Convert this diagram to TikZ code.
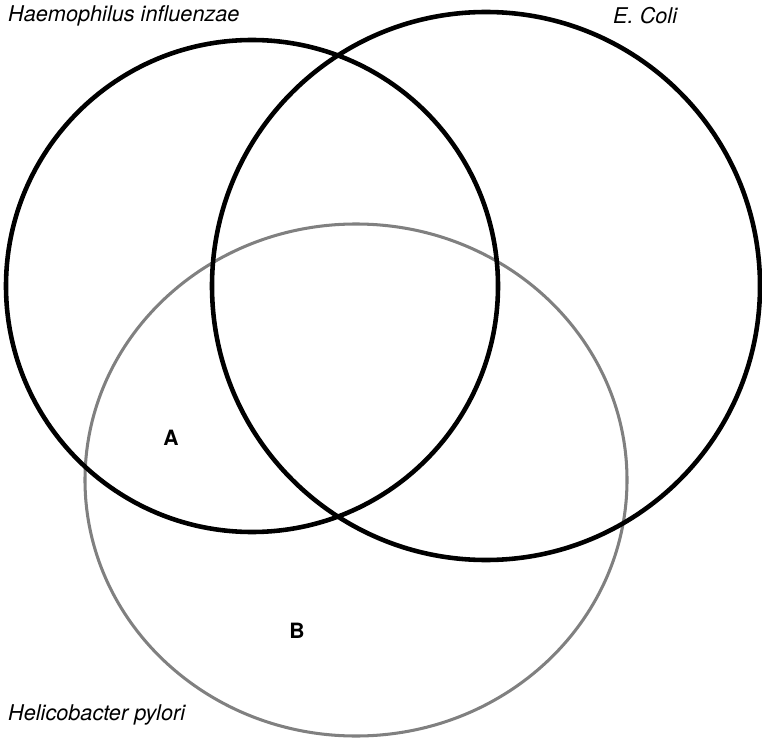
\documentclass[tikz,border=0pt]{standalone}
\usepackage{fontspec}
\setmainfont{TeX Gyre Heros}
\usetikzlibrary{positioning}

\begin{document}
\begin{tikzpicture}[
        x = 0.03cm, y = -0.03cm, % one unit is one pixel of the original
        set/.style = {draw=black, line width=3.9pt}, % black circles
        greyset/.style = {draw=black!50, line width=2.6pt}, % grey circle
        setname/.style = {font=\fontsize{18.5}{20}\selectfont\itshape, inner sep=0pt},
        region/.style = {font=\fontsize{18}{20}\selectfont\bfseries, inner sep=0pt}
        ]

  \useasboundingbox (0,0) rectangle (762,738);

  % the three sets
  \draw[greyset] (356,480) ellipse [x radius=271, y radius=256];
  \draw[set] (252,286) circle [radius=246];
  \draw[set] (486,286) circle [radius=274];

  % names
  \node[setname, anchor=west] (hinf) at (8,16) {Haemophilus influenzae};
  \node[setname, anchor=west] (ecoli) at (613,16) {E. Coli};
  \node[setname, anchor=west] (hpyl) at (8,715) {Helicobacter pylori};

  % regions
  \node[region] (ra) at (171,438) {A};
  \node[region] (rb) at (297,631) {B};

\end{tikzpicture}
\end{document}
